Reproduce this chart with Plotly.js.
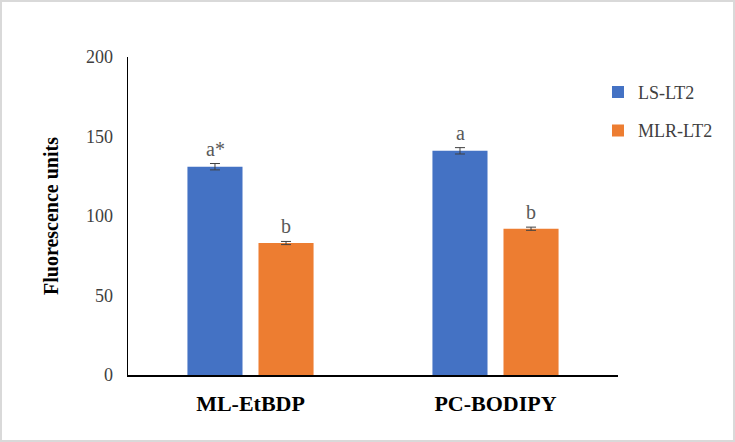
<!DOCTYPE html>
<html>
<head>
<meta charset="utf-8">
<script src="https://cdn.plot.ly/plotly-3.0.1.min.js"></script>
<style>
  html, body { margin: 0; padding: 0; background: #fff; }
  #wrap { position: relative; width: 735px; height: 442px; }
  #chart { width: 735px; height: 442px; }
  #frame { position: absolute; left: 0; top: 0; width: 735px; height: 442px; box-sizing: border-box; border: 2px solid #d9d9d9; pointer-events: none; }
</style>
</head>
<body>
<div id="wrap">
  <div id="chart"></div>
  <div id="frame"></div>
</div>
<script>
const categories = ["ML-EtBDP", "PC-BODIPY"];
const seriesNames = ["LS-LT2", "MLR-LT2"];
const lsValues = [131, 141];
const lsErrors = [2, 2];
const mlrValues = [83, 92];
const mlrErrors = [1, 1];
const lsLetters = ["a*", "a"];
const mlrLetters = ["b", "b"];
const yTicks = [0, 50, 100, 150, 200];

const serif = "Liberation Serif, Times New Roman, serif";

const traces = [
  {
    type: "bar", name: seriesNames[0], x: categories, y: lsValues,
    marker: { color: "#4472C4" },
    error_y: { type: "data", array: lsErrors, visible: true, color: "#404040", thickness: 1, width: 5 },
    legendgroup: "g1"
  },
  {
    type: "bar", name: seriesNames[1], x: categories, y: mlrValues,
    marker: { color: "#ED7D31" },
    error_y: { type: "data", array: mlrErrors, visible: true, color: "#404040", thickness: 1, width: 5 },
    legendgroup: "g2"
  }
];

const annotations = [];
categories.forEach((c, i) => {
  annotations.push({
    x: c, y: lsValues[i] + lsErrors[i], xref: "x", yref: "y", text: lsLetters[i],
    showarrow: false, xshift: -35.5, yanchor: "bottom", yshift: 2,
    font: { family: serif, size: 20, color: "#595959" }
  });
  annotations.push({
    x: c, y: mlrValues[i] + mlrErrors[i], xref: "x", yref: "y", text: mlrLetters[i],
    showarrow: false, xshift: 35.5, yanchor: "bottom", yshift: 2,
    font: { family: serif, size: 20, color: "#595959" }
  });
});

const layout = {
  width: 735, height: 442,
  margin: { l: 128, r: 117, t: 57, b: 67, autoexpand: false },
  paper_bgcolor: "#ffffff", plot_bgcolor: "#ffffff",
  barmode: "group", bargap: 0.42, bargroupgap: 0.225,
  font: { family: serif, color: "#000" },
  xaxis: {
    type: "category",
    showline: true, linecolor: "#000", linewidth: 1.5,
    showgrid: false, zeroline: false, ticks: "",
    tickfont: { family: serif, size: 22, color: "#000", weight: "bold" },
    ticklabelstandoff: 8
  },
  yaxis: {
    range: [0, 200], tickvals: yTicks,
    showline: true, linecolor: "#000", linewidth: 1.5,
    showgrid: false, zeroline: false, ticks: "",
    tickfont: { family: serif, size: 18, color: "#404040" },
    ticklabelstandoff: 10,
    title: { text: "<b>Fluorescence units</b>", font: { family: serif, size: 20, color: "#000" }, standoff: 22 }
  },
  legend: {
    xref: "container", x: 0.8136, xanchor: "left", y: 0.947, yanchor: "top",
    font: { family: serif, size: 18, color: "#404040" },
    tracegroupgap: 12, itemwidth: 30,
    bgcolor: "rgba(0,0,0,0)"
  },
  showlegend: true,
  annotations: annotations
};

Plotly.newPlot("chart", traces, layout, { displayModeBar: false, staticPlot: true });
</script>
</body>
</html>
